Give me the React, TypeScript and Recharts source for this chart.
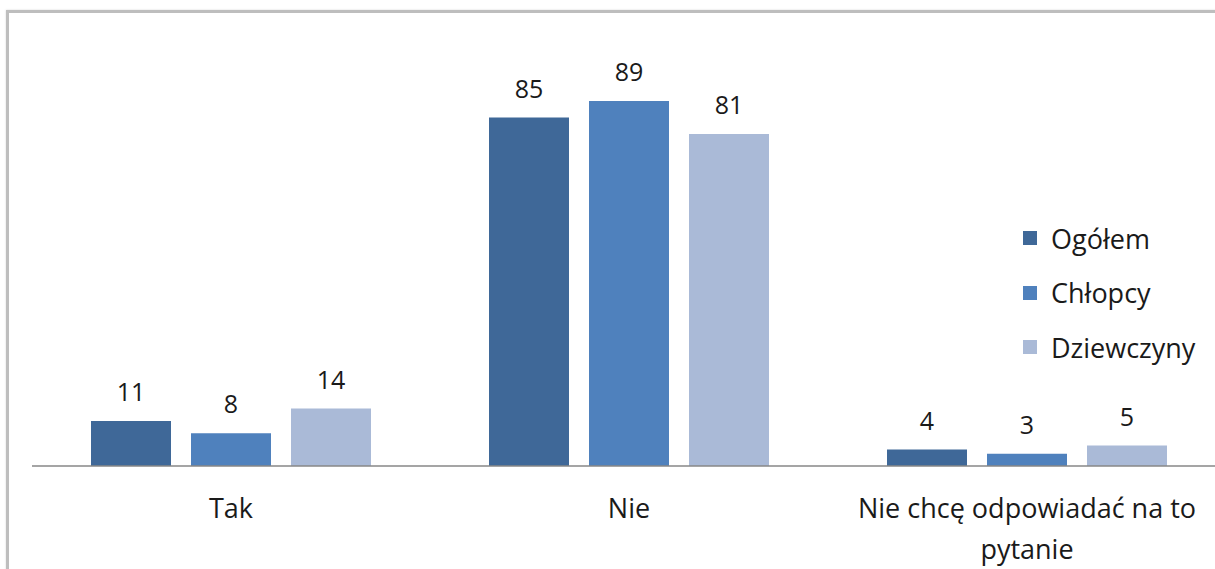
import { BarChart, Bar, XAxis, YAxis, LabelList, Legend } from 'recharts';

const categories = ['Tak', 'Nie', 'Nie chcę odpowiadać na to\npytanie'];
const ogolem = [11, 85, 4];
const chlopcy = [8, 89, 3];
const dziewczyny = [14, 81, 5];

const seriesNames = ['Ogółem', 'Chłopcy', 'Dziewczyny'];
const seriesColors = ['#3F6898', '#4F81BD', '#AABAD7'];

const FONT = '"Open Sans", "Liberation Sans", sans-serif';
const TEXT_COLOR = '#1a1a1a';

const data = categories.map((name, i) => ({
  name,
  ogolem: ogolem[i],
  chlopcy: chlopcy[i],
  dziewczyny: dziewczyny[i],
}));

const keys = ['ogolem', 'chlopcy', 'dziewczyny'];

const CategoryTick = (props: any) => {
  const { x, y, payload } = props;
  const lines = String(payload.value).split('\n');
  return (
    <text
      x={x}
      y={y}
      textAnchor="middle"
      fontSize={27}
      fontFamily={FONT}
      fill={TEXT_COLOR}
    >
      {lines.map((line, i) => (
        <tspan key={i} x={x} dy={i === 0 ? 20 : 41}>
          {line}
        </tspan>
      ))}
    </text>
  );
};

const LegendBox = () => (
  <div style={{ fontFamily: FONT, fontSize: 27, color: TEXT_COLOR }}>
    {seriesNames.map((name, i) => (
      <div key={name} style={{ display: 'flex', alignItems: 'center', height: 54.5 }}>
        <span
          style={{
            display: 'inline-block',
            width: 14,
            height: 14,
            background: seriesColors[i],
            marginRight: 14,
          }}
        />
        <span>{name}</span>
      </div>
    ))}
  </div>
);

export default function App() {
  return (
    <div
      style={{
        position: 'fixed',
        left: 0,
        top: 0,
        width: 1215,
        height: 569,
        overflow: 'hidden',
        background: '#fff',
      }}
    >
      <div
        style={{
          position: 'absolute',
          left: 6,
          top: 10,
          width: 1400,
          height: 800,
          border: '3px solid #BEBEBE',
          boxShadow: '0 0 2px #d8d8d8',
        }}
      />
      <div style={{ position: 'absolute', left: 0, top: 0 }}>
        <BarChart
          width={1240}
          height={569}
          data={data}
          margin={{ top: 56, right: 14, bottom: 0, left: 32 }}
          barSize={80}
          barGap={20}
        >
          <XAxis
            dataKey="name"
            height={103}
            axisLine={{ stroke: '#878787', strokeWidth: 1.5 }}
            tickLine={false}
            tickSize={0}
            tickMargin={32}
            tick={<CategoryTick />}
            interval={0}
          />
          <YAxis hide domain={[0, 100]} />
          <Legend
            layout="vertical"
            align="center"
            verticalAlign="middle"
            wrapperStyle={{ left: 1023, top: 211, width: 'auto' }}
            content={() => <LegendBox />}
          />
          {keys.map((k, i) => (
            <Bar
              key={k}
              dataKey={k}
              name={seriesNames[i]}
              fill={seriesColors[i]}
              isAnimationActive={false}
            >
              <LabelList
                dataKey={k}
                position="top"
                offset={20}
                fontSize={25}
                fontFamily={FONT}
                fill={TEXT_COLOR}
              />
            </Bar>
          ))}
        </BarChart>
      </div>
    </div>
  );
}
